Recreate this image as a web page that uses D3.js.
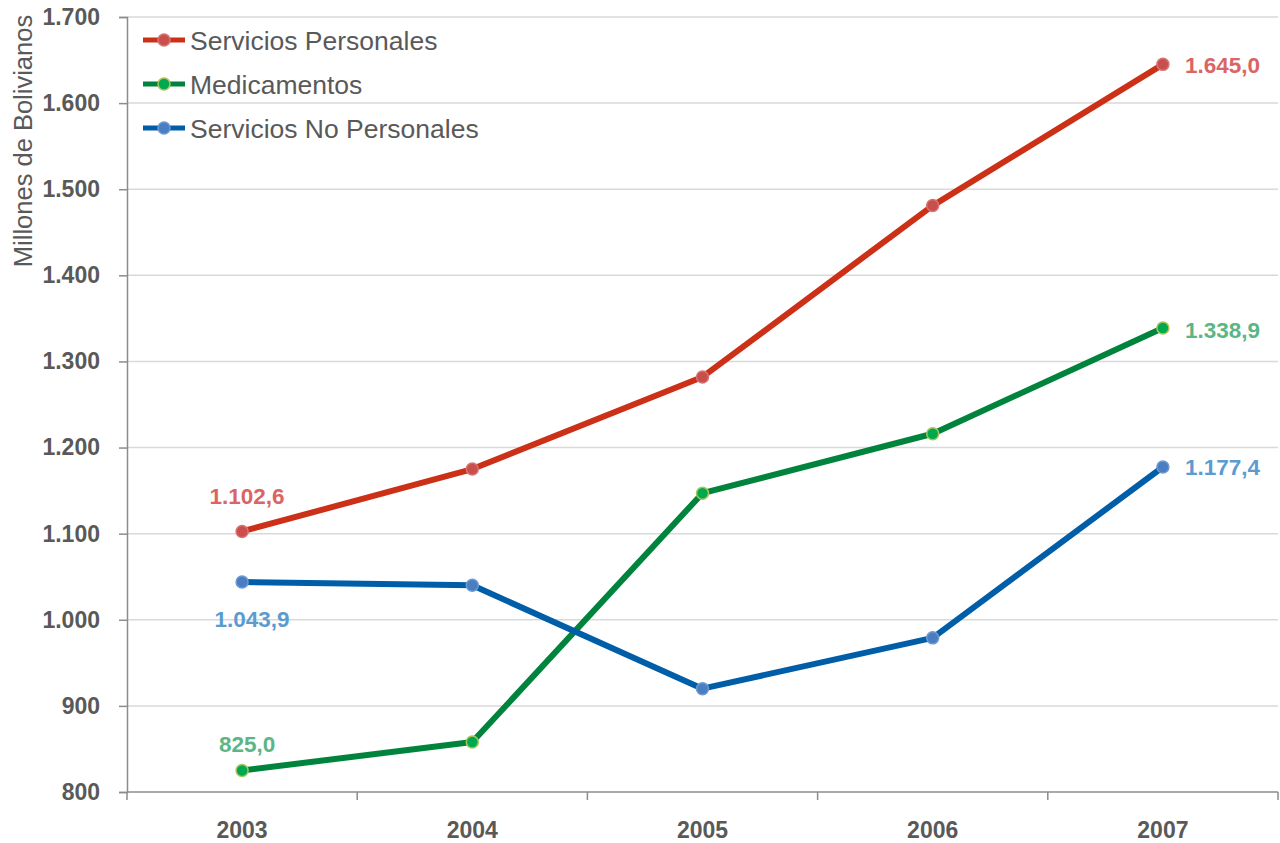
<!DOCTYPE html>
<html>
<head>
<meta charset="utf-8">
<script src="https://cdn.jsdelivr.net/npm/d3@7"></script>
<style>
  html, body { margin: 0; padding: 0; background: #ffffff; }
  svg { display: block; }
  text { font-family: "Liberation Sans", Arial, sans-serif; }
</style>
</head>
<body>
<svg id="chart" width="1280" height="843"></svg>
<script>
// Years on the horizontal axis
const years = ["2003", "2004", "2005", "2006", "2007"];

// Expenditure by category, millions of bolivianos
const serviciosPersonales = [1102.6, 1175, 1282, 1481, 1645.0];
const medicamentos = [825.0, 858, 1147, 1216, 1338.9];
const serviciosNoPersonales = [1043.9, 1040, 920, 979, 1177.4];

const seriesNames = ["Servicios Personales", "Medicamentos", "Servicios No Personales"];
const yTicks = [800, 900, 1000, 1100, 1200, 1300, 1400, 1500, 1600, 1700];

const es = d3.formatLocale({ decimal: ",", thousands: ".", grouping: [3], currency: ["Bs ", ""] });
const fmtTick = es.format(",.0f");
const fmtVal = es.format(",.1f");

// Value labels: which point, and offset from the marker (dx, dy, anchor)
const series = [
  { name: seriesNames[0], values: serviciosPersonales, line: "#cc3016", fill: "#c94f4c", stroke: "#d77472", label: "#db6464",
    labelAt: [{ i: 0, dx: 5, dy: -27, anchor: "middle" }, { i: 4, dx: 22, dy: 9, anchor: "start" }] },
  { name: seriesNames[1], values: medicamentos, line: "#00843d", fill: "#00a84f", stroke: "#a9c55a", label: "#5cb584",
    labelAt: [{ i: 0, dx: 5, dy: -18, anchor: "middle" }, { i: 4, dx: 22, dy: 10, anchor: "start" }] },
  { name: seriesNames[2], values: serviciosNoPersonales, line: "#005ea8", fill: "#4a7ec2", stroke: "#6f98d0", label: "#5b9bd0",
    labelAt: [{ i: 0, dx: 10, dy: 45, anchor: "middle" }, { i: 4, dx: 22, dy: 8, anchor: "start" }] }
];

const svg = d3.select("#chart");
const margin = { left: 127, right: 2, top: 17, bottom: 51 };
const W = 1280, H = 843;

const x = d3.scaleBand().domain(years).range([margin.left, W - margin.right]);
const y = d3.scaleLinear().domain([800, 1700]).range([H - margin.bottom, margin.top]);

// Horizontal gridlines
svg.append("g")
  .selectAll("line")
  .data(yTicks.slice(1))
  .join("line")
  .attr("x1", margin.left).attr("x2", W - margin.right)
  .attr("y1", d => y(d)).attr("y2", d => y(d))
  .attr("stroke", "#d9d9d9").attr("stroke-width", 1.5);

// Y axis
const yAxis = svg.append("g")
  .attr("transform", `translate(${margin.left},0)`)
  .call(d3.axisLeft(y).tickValues(yTicks).tickFormat(fmtTick).tickSize(8).tickPadding(19));
yAxis.select(".domain").attr("stroke", "#8c8c8c").attr("stroke-width", 1.5);
yAxis.selectAll(".tick line").attr("stroke", "#8c8c8c").attr("stroke-width", 1.5);
yAxis.selectAll(".tick text")
  .attr("fill", "#595959").attr("font-size", 23).attr("font-weight", "bold")
  .attr("font-family", "'Liberation Sans', Arial, sans-serif");

// X axis: ticks at category boundaries
const xAxisG = svg.append("g").attr("transform", `translate(0,${y(800)})`);
xAxisG.append("line")
  .attr("x1", margin.left).attr("x2", W - margin.right)
  .attr("stroke", "#8c8c8c").attr("stroke-width", 1.5);
const boundaries = years.map(d => x(d)).concat([x(years[years.length - 1]) + x.bandwidth()]);
xAxisG.selectAll("line.tk")
  .data(boundaries)
  .join("line").attr("class", "tk")
  .attr("x1", d => d).attr("x2", d => d)
  .attr("y1", 0).attr("y2", 8)
  .attr("stroke", "#8c8c8c").attr("stroke-width", 1.5);
xAxisG.selectAll("text")
  .data(years)
  .join("text")
  .attr("x", d => x(d) + x.bandwidth() / 2)
  .attr("y", 46)
  .attr("text-anchor", "middle")
  .attr("fill", "#595959").attr("font-size", 23).attr("font-weight", "bold")
  .text(d => d);

// Y axis title
svg.append("text")
  .attr("transform", `translate(32,141) rotate(-90)`)
  .attr("text-anchor", "middle")
  .attr("fill", "#595959").attr("font-size", 25.5)
  .text("Millones de Bolivianos");

const cx = (i) => x(years[i]) + x.bandwidth() / 2;
const line = d3.line().x((d, i) => cx(i)).y(d => y(d));

// Lines
series.forEach(s => {
  svg.append("path")
    .datum(s.values)
    .attr("d", line)
    .attr("fill", "none")
    .attr("stroke", s.line)
    .attr("stroke-width", 6)
    .attr("stroke-linejoin", "round");
});

// Markers
series.forEach(s => {
  svg.append("g").selectAll("circle")
    .data(s.values)
    .join("circle")
    .attr("cx", (d, i) => cx(i))
    .attr("cy", d => y(d))
    .attr("r", 6)
    .attr("fill", s.fill)
    .attr("stroke", s.stroke)
    .attr("stroke-width", 1.5);
});

// Value labels
series.forEach(s => {
  s.labelAt.forEach(l => {
    const v = s.values[l.i];
    svg.append("text")
      .attr("x", cx(l.i) + l.dx).attr("y", y(v) + l.dy)
      .attr("text-anchor", l.anchor)
      .attr("fill", s.label).attr("font-size", 22.5).attr("font-weight", "bold")
      .text(fmtVal(v));
  });
});

// Legend
const legend = svg.append("g");
series.forEach((s, k) => {
  const ly = 40 + k * 44;
  legend.append("line")
    .attr("x1", 143).attr("x2", 185).attr("y1", ly).attr("y2", ly)
    .attr("stroke", s.line).attr("stroke-width", 5);
  legend.append("circle")
    .attr("cx", 164).attr("cy", ly).attr("r", 6)
    .attr("fill", s.fill).attr("stroke", s.stroke).attr("stroke-width", 1.5);
  legend.append("text")
    .attr("x", 190).attr("y", ly + 10)
    .attr("fill", "#595959").attr("font-size", 26.5)
    .text(s.name);
});
</script>
</body>
</html>
